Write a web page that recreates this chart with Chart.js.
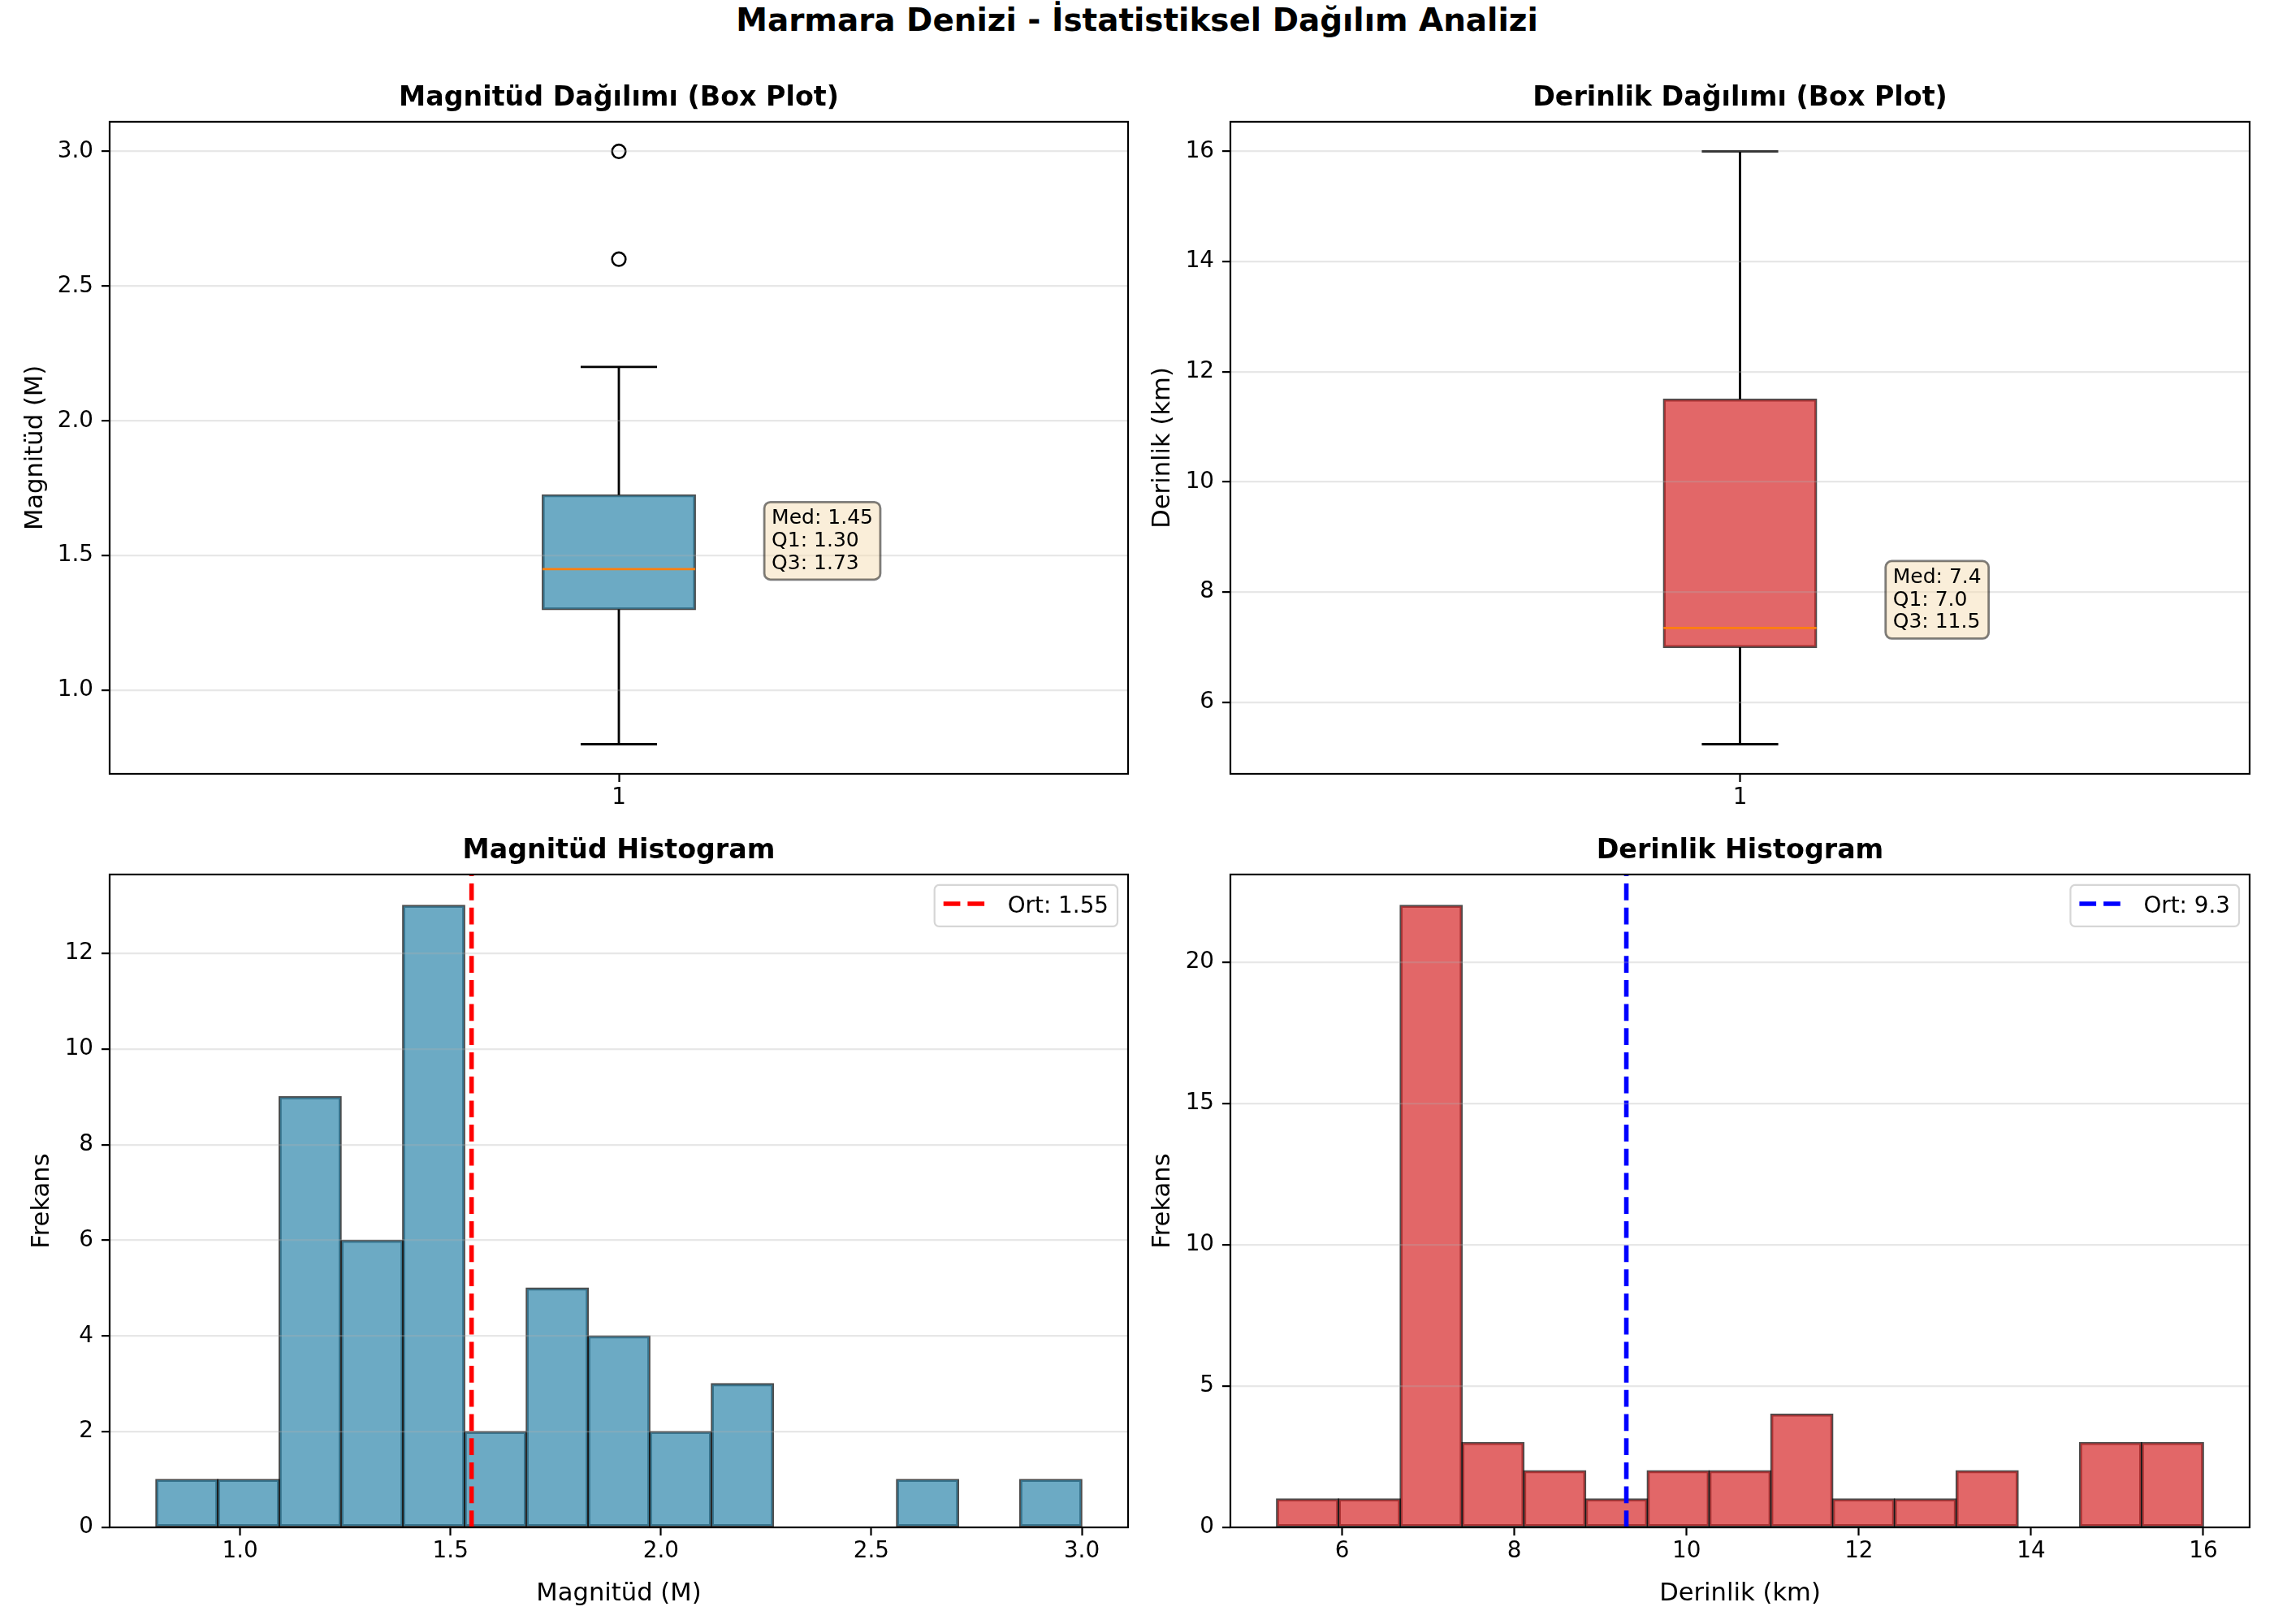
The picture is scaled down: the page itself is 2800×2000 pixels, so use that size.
<!DOCTYPE html>
<html>
<head>
<meta charset="utf-8">
<script src="https://cdn.jsdelivr.net/npm/chart.js@4.4.1/dist/chart.umd.min.js"></script>
<style>
html, body { margin: 0; padding: 0; background: #fff; }
#fig { position: relative; width: 2800px; height: 2000px; background: #fff; overflow: hidden; }
#fig canvas { position: absolute; }
#suptitle { position: absolute; left: 0; top: 4.5px; width: 2800px; text-align: center;
  font: bold 38.9px 'DejaVu Sans'; line-height: 40px; color: #000; }
</style>
</head>
<body>
<div id="fig">
  <div id="suptitle">Marmara Denizi - İstatistiksel Dağılım Analizi</div>
  <canvas id="magBoxChart" width="1450" height="950" style="left:0;top:60px;width:1450px;height:950px"></canvas>
  <canvas id="depthBoxChart" width="1400" height="950" style="left:1400px;top:60px;width:1400px;height:950px"></canvas>
  <canvas id="magHistChart" width="1450" height="1000" style="left:0;top:1000px;width:1450px;height:1000px"></canvas>
  <canvas id="depthHistChart" width="1400" height="1000" style="left:1400px;top:1000px;width:1400px;height:1000px"></canvas>
</div>
<script>
// box plot stats: whisker low, Q1, median, Q3, whisker high
var magBox = [0.80, 1.30, 1.45, 1.725, 2.20];
var magOutliers = [2.6, 3.0];
var magBoxText = ["Med: 1.45", "Q1: 1.30", "Q3: 1.73"];
var depthBox = [5.24, 7.0, 7.35, 11.5, 16.0];
var depthOutliers = [];
var depthBoxText = ["Med: 7.4", "Q1: 7.0", "Q3: 11.5"];

// histogram bins (15 bins each)
var magEdges = [0.8, 0.947, 1.093, 1.24, 1.387, 1.533, 1.68, 1.827, 1.973, 2.12, 2.267, 2.413, 2.56, 2.707, 2.853, 3.0];
var magCounts = [1, 1, 9, 6, 13, 2, 5, 4, 2, 3, 0, 0, 1, 0, 1];
var depthEdges = [5.24, 5.957, 6.675, 7.392, 8.109, 8.827, 9.544, 10.261, 10.979, 11.696, 12.413, 13.131, 13.848, 14.565, 15.283, 16.0];
var depthCounts = [1, 1, 22, 3, 2, 1, 2, 2, 4, 1, 1, 2, 0, 3, 3];

var magMean = 1.55;
var depthMean = 9.3;
var magMeanLabel = "Ort: 1.55";
var depthMeanLabel = "Ort: 9.3";

// ticks
var boxXTicks = [1];
var magTicks = [1.0, 1.5, 2.0, 2.5, 3.0];
var depthTicks = [6, 8, 10, 12, 14, 16];
var magFreqTicks = [0, 2, 4, 6, 8, 10, 12];
var depthFreqTicks = [0, 5, 10, 15, 20];

// axis limits
var magRange = [0.69, 3.11];
var depthRange = [4.702, 16.538];
var magFreqMax = 13.65;
var depthFreqMax = 23.1;

var blueFill = "rgba(46,134,171,0.7)";
var redFill = "rgba(214,39,40,0.7)";
var edge = "rgba(0,0,0,0.7)";
var gridColor = "rgba(176,176,176,0.3)";

Chart.defaults.font.family = "'DejaVu Sans', sans-serif";
Chart.defaults.color = "#000";

var tickFont = { size: 27.8 };
var labelFont = { size: 30.6 };
var titleFont = { size: 33.3, weight: "bold" };

function fixed1(v) { return Number(v).toFixed(1); }
function plain(v) { return String(v); }

function yAxis(range, ticks, fmt, width, label, labelPad) {
    return {
        type: "linear", min: range[0], max: range[1],
        afterBuildTicks: function (s) { s.ticks = ticks.map(function (v) { return { value: v }; }); },
        afterFit: function (s) { s.width = width; },
        ticks: { callback: fmt, font: tickFont, color: "#000", padding: 10, autoSkip: false },
        grid: { color: gridColor, lineWidth: 2.2, z: 1, drawTicks: true, tickLength: 10, tickColor: "#000", tickWidth: 2.2 },
        border: { display: false },
        title: { display: true, text: label, font: labelFont, color: "#000", padding: { top: labelPad, bottom: 0 } }
    };
}

function xAxis(range, ticks, fmt, height, label) {
    return {
        type: "linear", min: range[0], max: range[1], offset: false,
        afterBuildTicks: function (s) { s.ticks = ticks.map(function (v) { return { value: v }; }); },
        afterFit: function (s) { s.height = height; },
        ticks: { callback: fmt, font: tickFont, color: "#000", padding: 3, maxRotation: 0, autoSkip: false },
        grid: { offset: false, drawOnChartArea: false, drawTicks: true, tickLength: 10, tickColor: "#000", tickWidth: 2.2, color: "#000" },
        border: { display: false },
        title: label ? { display: true, text: label, font: labelFont, color: "#000", padding: { top: 0, bottom: 19 } } : { display: false }
    };
}

// spines on all four sides
var framePlugin = {
    id: "frame",
    afterDraw: function (chart) {
        var ctx = chart.ctx, a = chart.chartArea;
        ctx.save();
        ctx.strokeStyle = "#000";
        ctx.lineWidth = 2.2;
        ctx.strokeRect(a.left, a.top, a.right - a.left, a.bottom - a.top);
        ctx.restore();
    }
};

// Med / Q1 / Q3 text box next to the box
function statBox(xVal, yVal, lines) {
    return {
        id: "statBox",
        afterDraw: function (chart) {
            var ctx = chart.ctx;
            var px = chart.scales.x.getPixelForValue(xVal);
            var py = chart.scales.y.getPixelForValue(yVal);
            ctx.save();
            ctx.font = "25px 'DejaVu Sans'";
            var lh = 27.7, n = lines.length, w = 0;
            lines.forEach(function (t) { w = Math.max(w, ctx.measureText(t).width); });
            var left = px - 9, top = py - (n - 1) * lh - 27;
            ctx.beginPath();
            ctx.roundRect(left, top, w + 18, (n - 1) * lh + 40, 7.5);
            ctx.fillStyle = "rgba(245,222,179,0.5)";
            ctx.fill();
            ctx.strokeStyle = "rgba(0,0,0,0.5)";
            ctx.lineWidth = 2.8;
            ctx.stroke();
            ctx.fillStyle = "#000";
            ctx.textAlign = "left";
            ctx.textBaseline = "alphabetic";
            lines.forEach(function (t, i) { ctx.fillText(t, px, py - (n - 1 - i) * lh); });
            ctx.restore();
        }
    };
}

// legend box in the upper right corner for the mean line dataset
function meanLegend(idx) {
    return {
        id: "meanLegend",
        afterDraw: function (chart) {
            var ds = chart.data.datasets[idx];
            var ctx = chart.ctx, a = chart.chartArea;
            ctx.save();
            ctx.font = "27.8px 'DejaVu Sans'";
            var tw = ctx.measureText(ds.label).width;
            var w = 101 + tw, h = 51;
            var left = a.right - 13 - w, top = a.top + 13;
            ctx.beginPath();
            ctx.roundRect(left, top, w, h, 5.6);
            ctx.fillStyle = "rgba(255,255,255,0.8)";
            ctx.fill();
            ctx.strokeStyle = "#d6d6d6";
            ctx.lineWidth = 2.2;
            ctx.stroke();
            ctx.beginPath();
            ctx.setLineDash(ds.borderDash);
            ctx.strokeStyle = ds.borderColor;
            ctx.lineWidth = ds.borderWidth;
            ctx.moveTo(left + 11, top + 23);
            ctx.lineTo(left + 62, top + 23);
            ctx.stroke();
            ctx.setLineDash([]);
            ctx.fillStyle = "#000";
            ctx.textAlign = "left";
            ctx.textBaseline = "alphabetic";
            ctx.fillText(ds.label, left + 90, top + 34);
            ctx.restore();
        }
    };
}

function boxDatasets(stats, outliers, fill) {
    var lo = stats[0], q1 = stats[1], med = stats[2], q3 = stats[3], hi = stats[4];
    var c = 1, bw = 0.15, half = bw / 2, cap = bw / 4;
    return [
        { type: "scatter", data: outliers.map(function (v) { return { x: c, y: v }; }),
          pointStyle: "circle", pointRadius: 8.3, backgroundColor: "rgba(0,0,0,0)",
          borderColor: "#000", borderWidth: 2.6, order: 0 },
        { type: "line", data: [{ x: c - half, y: med }, { x: c + half, y: med }],
          borderColor: "#ff7f0e", borderWidth: 2.8, pointRadius: 0, order: 1 },
        { type: "line", data: [
            { x: c, y: q3 }, { x: c, y: hi }, { x: c, y: null },
            { x: c - cap, y: hi }, { x: c + cap, y: hi }, { x: c, y: null },
            { x: c, y: q1 }, { x: c, y: lo }, { x: c, y: null },
            { x: c - cap, y: lo }, { x: c + cap, y: lo }],
          borderColor: "#000", borderWidth: 2.8, pointRadius: 0, spanGaps: false, order: 2 },
        // x range is 1.0 wide, so barPercentage equals the box width in data units
        { type: "bar", data: [{ x: c, y: [q1, q3] }], backgroundColor: fill, borderColor: edge,
          borderWidth: 1.8, borderSkipped: false, inflateAmount: 0.9,
          barPercentage: bw, categoryPercentage: 1, order: 3 }
    ];
}

function histDatasets(edges, counts, fill, mean, meanLabel, meanColor, yMax) {
    return [
        { type: "line", label: meanLabel, data: [{ x: mean, y: 0 }, { x: mean, y: yMax }],
          borderColor: meanColor, borderWidth: 5.6, borderDash: [20.7, 9], pointRadius: 0, order: 0 },
        { type: "bar", data: counts.map(function (n, i) { return { x: (edges[i] + edges[i + 1]) / 2, y: n }; }),
          backgroundColor: fill, borderColor: edge, borderWidth: 1.9, borderSkipped: false,
          inflateAmount: 0.95, barPercentage: 1, categoryPercentage: 1, order: 1 }
    ];
}

function baseOptions(title, titlePad, rightPad, xs, ys) {
    return {
        responsive: false, animation: false, devicePixelRatio: 1, events: [],
        layout: { padding: { left: 0, top: 0, right: rightPad, bottom: 0 } },
        plugins: {
            legend: { display: false },
            tooltip: { enabled: false },
            // not full width, so the title is centred over the plot area
            title: { display: true, fullSize: false, text: title, font: titleFont, color: "#000", padding: titlePad }
        },
        scales: { x: xs, y: ys }
    };
}

new Chart(document.getElementById("magBoxChart"), {
    type: "bar",
    data: { datasets: boxDatasets(magBox, magOutliers, blueFill) },
    options: baseOptions("Magnitüd Dağılımı (Box Plot)", { top: 41.5, bottom: 8.5 }, 61,
        xAxis([0.5, 1.5], boxXTicks, plain, 57, null),
        yAxis(magRange, magTicks, fixed1, 135, "Magnitüd (M)", 25.6)),
    plugins: [framePlugin, statBox(1.15, magBox[2], magBoxText)]
});

new Chart(document.getElementById("depthBoxChart"), {
    type: "bar",
    data: { datasets: boxDatasets(depthBox, depthOutliers, redFill) },
    options: baseOptions("Derinlik Dağılımı (Box Plot)", { top: 41.5, bottom: 8.5 }, 30,
        xAxis([0.5, 1.5], boxXTicks, plain, 57, null),
        yAxis(depthRange, depthTicks, plain, 115, "Derinlik (km)", 13.6)),
    plugins: [framePlugin, statBox(1.15, depthBox[2], depthBoxText)]
});

new Chart(document.getElementById("magHistChart"), {
    type: "bar",
    data: { datasets: histDatasets(magEdges, magCounts, blueFill, magMean, magMeanLabel, "#ff0000", magFreqMax) },
    options: baseOptions("Magnitüd Histogram", { top: 28.5, bottom: 8.5 }, 61,
        xAxis(magRange, magTicks, fixed1, 119, "Magnitüd (M)"),
        yAxis([0, magFreqMax], magFreqTicks, plain, 135, "Frekans", 33.6)),
    plugins: [framePlugin, meanLegend(0)]
});

new Chart(document.getElementById("depthHistChart"), {
    type: "bar",
    data: { datasets: histDatasets(depthEdges, depthCounts, redFill, depthMean, depthMeanLabel, "#0000ff", depthFreqMax) },
    options: baseOptions("Derinlik Histogram", { top: 28.5, bottom: 8.5 }, 30,
        xAxis(depthRange, depthTicks, plain, 119, "Derinlik (km)"),
        yAxis([0, depthFreqMax], depthFreqTicks, plain, 115, "Frekans", 13.6)),
    plugins: [framePlugin, meanLegend(0)]
});
</script>
</body>
</html>
